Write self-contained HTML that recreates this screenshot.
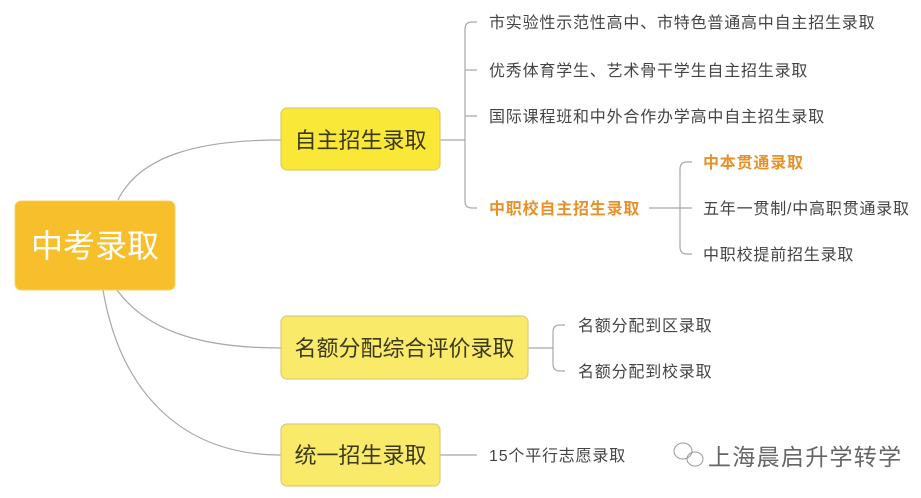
<!DOCTYPE html>
<html><head><meta charset="utf-8"><style>
html,body{margin:0;padding:0;background:#fff;}
svg{display:block;font-family:"Liberation Sans","Noto Sans CJK SC",sans-serif;}
</style></head><body>
<svg width="921" height="498" viewBox="0 0 921 498" xmlns="http://www.w3.org/2000/svg">
<g fill="none" stroke="#a8a8a8" stroke-width="1.2">
<path d="M118 200 C140 155 200 140 281 140"/>
<path d="M117 290 C150 335 210 348 281 348"/>
<path d="M103 290 C120 390 180 455 281 455"/>
<path d="M440 140 H465"/>
<path d="M477 22 H472 Q465 22 465 29 V201 Q465 208 472 208 H477"/>
<path d="M465 70 H477 M465 116 H477"/>
<path d="M649 208 H692"/>
<path d="M692 162 H687 Q680 162 680 169 V247 Q680 254 687 254 H692"/>
<path d="M528 348 H553"/>
<path d="M565 325 H560 Q553 325 553 332 V364 Q553 371 560 371 H565"/>
<path d="M440 455 H477"/>
</g>
<rect x="15" y="201" width="160" height="89" rx="6" fill="#f8bf2c" stroke="#f5d36a" stroke-width="1"/>
<text x="95" y="257" font-size="32" fill="#fff" text-anchor="middle">中考录取</text>
<rect x="281" y="108" width="159" height="62" rx="6" fill="#fae838" stroke="#d9cc6a" stroke-width="1.2"/>
<text x="360.5" y="148" font-size="22" fill="#3a3a1a" text-anchor="middle">自主招生录取</text>
<rect x="281" y="316" width="247" height="63" rx="6" fill="#faea6a" stroke="#d9cc7a" stroke-width="1.2"/>
<text x="404.5" y="356" font-size="22" fill="#3a3a1a" text-anchor="middle">名额分配综合评价录取</text>
<rect x="281" y="424" width="159" height="62" rx="6" fill="#faea6a" stroke="#d9cc7a" stroke-width="1.2"/>
<text x="360.5" y="463" font-size="22" fill="#3a3a1a" text-anchor="middle">统一招生录取</text>
<g font-size="16" fill="#444" letter-spacing="0.8">
<text x="489" y="28">市实验性示范性高中、市特色普通高中自主招生录取</text>
<text x="489" y="76">优秀体育学生、艺术骨干学生自主招生录取</text>
<text x="489" y="122">国际课程班和中外合作办学高中自主招生录取</text>
<text x="489" y="214" fill="#e8912a" font-weight="bold">中职校自主招生录取</text>
<text x="703" y="168" fill="#e8912a" font-weight="bold">中本贯通录取</text>
<text x="703" y="214">五年一贯制/中高职贯通录取</text>
<text x="703" y="260">中职校提前招生录取</text>
<text x="578" y="331">名额分配到区录取</text>
<text x="578" y="377">名额分配到校录取</text>
<text x="489" y="461">15个平行志愿录取</text>
</g>
<g fill="none" stroke="#999" stroke-width="1">
<ellipse cx="683" cy="451" rx="9" ry="8"/>
<ellipse cx="695" cy="459" rx="8" ry="7"/>
</g>
<text x="708" y="465" font-size="23" fill="#666" letter-spacing="1.3">上海晨启升学转学</text>
</svg>
</body></html>
